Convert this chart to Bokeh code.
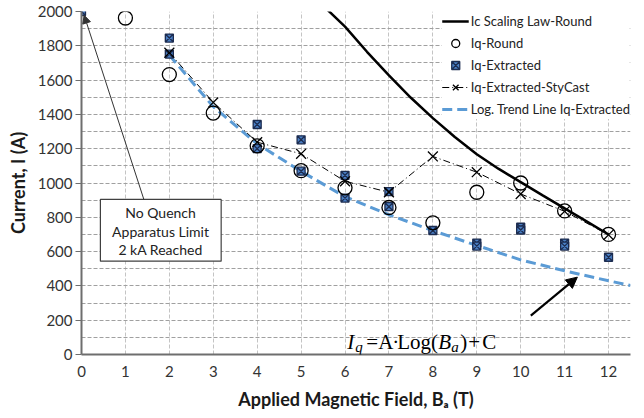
from bokeh.plotting import figure
from bokeh.models import (Legend, LegendItem, FixedTicker, Label, Arrow, NormalHead,
                          BoxAnnotation)
from bokeh.embed import file_html
from bokeh.resources import INLINE

# ---------------- data ----------------
field_round = [1, 2, 3, 4, 5, 6, 7, 8, 9, 10, 11, 12]
iq_round = [1962, 1632, 1408, 1217, 1072, 972, 857, 768, 946, 1000, 837, 700]

field_extracted = [0, 2, 2, 4, 4, 5, 5, 6, 6, 7, 7, 8, 9, 9, 10, 10, 11, 11, 12]
iq_extracted = [2000, 1845, 1752, 1341, 1200, 1252, 1069, 1045, 912, 950, 862,
                723, 650, 632, 742, 726, 650, 632, 567]

field_stycast = [2, 3, 4, 5, 6, 7, 8, 9, 10, 11, 12]
iq_stycast = [1760, 1470, 1238, 1170, 1010, 946, 1155, 1063, 936, 835, 698]

field_scaling = [5.6, 6, 6.5, 7, 7.5, 8, 8.5, 9, 9.5, 10, 10.5, 11, 11.5, 12]
ic_scaling = [2010, 1912, 1765, 1627, 1497, 1378, 1268, 1168, 1082, 1005, 928, 852, 776, 700]

field_trend = [2, 3, 4, 5, 6, 7, 8, 9, 10, 11, 12, 12.5]
iq_trend = [1745, 1445, 1228, 1068, 920, 815, 722, 636, 552, 488, 430, 402]

x_ticks = [0, 1, 2, 3, 4, 5, 6, 7, 8, 9, 10, 11, 12]
y_ticks = [0, 200, 400, 600, 800, 1000, 1200, 1400, 1600, 1800, 2000]
y_grid = [100, 200, 300, 400, 500, 600, 700, 800, 900, 1000, 1100, 1200, 1300,
          1400, 1500, 1600, 1700, 1800, 1900]
x_grid = [1, 2, 3, 4, 5, 6, 7, 8, 9, 10, 11, 12]

box_lines = ["No Quench", "Apparatus Limit", "2 kA Reached"]

FONT = "Lato"

p = figure(width=638, height=414, x_range=(0, 12.5), y_range=(0, 2000),
           output_backend="svg", toolbar_location=None,
           min_border_left=81, min_border_right=8, min_border_top=11, min_border_bottom=60)
p.outline_line_color = None
p.background_fill_color = "white"

# grid
p.xgrid.ticker = FixedTicker(ticks=x_grid)
p.ygrid.ticker = FixedTicker(ticks=y_grid)
p.xgrid.grid_line_color = "#c4c4c4"
p.xgrid.grid_line_dash = "4 2"
p.xgrid.grid_line_width = 1
p.ygrid.grid_line_color = "#a0a0a0"
p.ygrid.grid_line_dash = "4 2"
p.ygrid.grid_line_width = 1

# axes
p.xaxis.ticker = FixedTicker(ticks=x_ticks)
p.yaxis.ticker = FixedTicker(ticks=y_ticks)
for ax in (p.xaxis[0], p.yaxis[0]):
    ax.axis_line_color = "#6e6e6e"
    ax.axis_line_width = 2
    ax.major_tick_line_color = "#6e6e6e"
    ax.major_tick_in = 0
    ax.minor_tick_in = 0
    ax.minor_tick_out = 0
    ax.major_label_text_font = FONT
    ax.major_label_text_font_size = "15px"
    ax.major_label_text_color = "#333333"
    ax.axis_label_text_font = FONT
    ax.axis_label_text_font_size = "18px"
    ax.axis_label_text_font_style = "bold"
    ax.axis_label_text_color = "#1a1a1a"
p.xaxis.major_tick_out = 0
p.xaxis.major_label_standoff = 11
p.xaxis.axis_label_standoff = 8
p.yaxis.major_tick_out = 6
p.yaxis.major_label_standoff = 3
p.yaxis.axis_label_standoff = 6
p.xaxis.axis_label = "Applied Magnetic Field, B\u2090 (T)"
p.yaxis.axis_label = "Current, I (A)"

# series
r_trend = p.line(field_trend, iq_trend, line_color="#5b9bd5", line_width=3, line_dash="10 5")
r_scale = p.line(field_scaling, ic_scaling, line_color="black", line_width=2.5)
r_sty_line = p.line(field_stycast, iq_stycast, line_color="black", line_width=1,
                    line_dash="7 3 1 3")
r_ext = p.scatter(field_extracted, iq_extracted, marker="square_x", size=8,
                  fill_color="#4a7fc4", line_color="#1c2c50", line_width=1.3)
r_sty_pts = p.scatter(field_stycast, iq_stycast, marker="x", size=14,
                      line_color="black", line_width=1.3)
r_round = p.scatter(field_round, iq_round, marker="circle", size=14,
                    fill_color=None, line_color="black", line_width=1.3)

# annotation box
p.add_layout(BoxAnnotation(left=0.43, right=3.18, bottom=544, top=904,
                           fill_color="white", fill_alpha=1, line_color="#404040",
                           line_width=1.2, line_alpha=1, level="annotation"))
for txt, yv in zip(box_lines, [826, 719, 611]):
    p.add_layout(Label(x=1.8, y=yv, text=txt, text_align="center", text_baseline="middle",
                       text_font=FONT, text_font_size="14px", text_color="#222222"))

p.add_layout(Arrow(end=NormalHead(size=8, fill_color="#333333", line_color="#333333"),
                   x_start=1.42, y_start=904, x_end=0.06, y_end=1978,
                   line_color="#333333", line_width=1))
p.add_layout(Arrow(end=NormalHead(size=11, fill_color="black", line_color="black"),
                   x_start=10.23, y_start=227, x_end=11.29, y_end=451,
                   line_color="black", line_width=2.2))

# equation I_q = A·Log(B_a)+C
eq_x, eq_y = 6.05, 70
eq_parts = [("I", 0, 0, "21px", "italic"),
            ("q", 8, -5, "15px", "italic"),
            ("=", 19, 0, "21px", "normal"),
            ("A", 31, 0, "21px", "normal"),
            ("\u00b7", 45, 0, "21px", "normal"),
            ("Log(", 50, 0, "21px", "normal"),
            ("B", 91, 0, "21px", "italic"),
            ("a", 104, -5, "15px", "italic"),
            (")", 113, 0, "21px", "normal"),
            ("+", 121, 0, "21px", "normal"),
            ("C", 135, 0, "21px", "normal")]
for txt, dx, dy, fs, st in eq_parts:
    p.add_layout(Label(x=eq_x, y=eq_y, x_offset=dx, y_offset=dy, text=txt,
                       text_font="Liberation Serif", text_font_size=fs, text_font_style=st,
                       text_baseline="alphabetic", text_align="left", text_color="black"))

legend = Legend(items=[
    LegendItem(label="Ic Scaling Law-Round", renderers=[r_scale]),
    LegendItem(label="Iq-Round", renderers=[r_round]),
    LegendItem(label="Iq-Extracted", renderers=[r_ext]),
    LegendItem(label="Iq-Extracted-StyCast", renderers=[r_sty_line, r_sty_pts]),
    LegendItem(label="Log. Trend Line Iq-Extracted", renderers=[r_trend]),
], location="top_right")
legend.background_fill_color = "white"
legend.background_fill_alpha = 1
legend.border_line_color = None
legend.label_text_font = FONT
legend.label_text_font_size = "13px"
legend.label_text_color = "#222222"
legend.glyph_width = 27
legend.glyph_height = 20
legend.label_height = 20
legend.spacing = 2
legend.padding = 2
legend.margin = 0
legend.label_standoff = 2
p.add_layout(legend)

open("out.html", "w").write(file_html(p, INLINE))
